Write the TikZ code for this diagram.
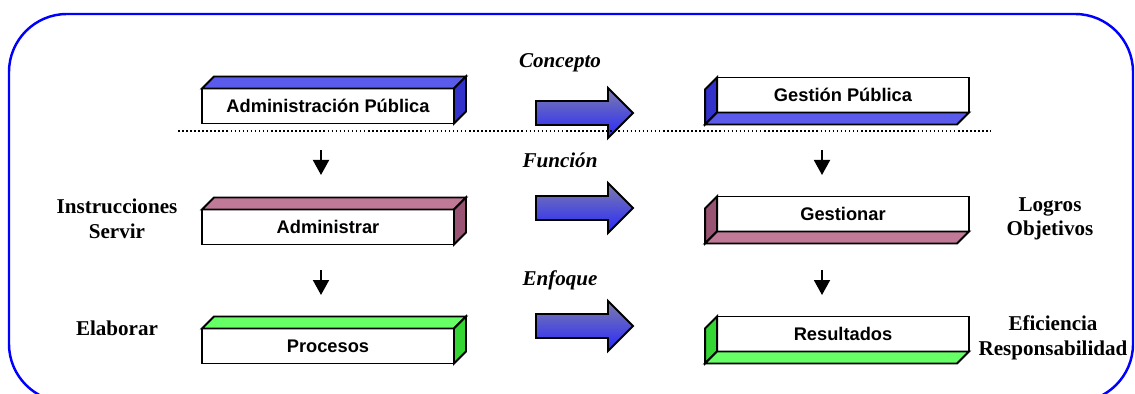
\documentclass[tikz,border=0pt]{standalone}
\usepackage{fontspec}
\setmainfont{Liberation Serif}
\setsansfont{Liberation Sans}
\usetikzlibrary{arrows.meta}

\definecolor{azulA}{RGB}{90,90,235}
\definecolor{azulB}{RGB}{51,51,204}
\definecolor{malvaA}{RGB}{192,122,152}
\definecolor{malvaB}{RGB}{153,84,115}
\definecolor{verdeA}{RGB}{102,255,102}
\definecolor{verdeB}{RGB}{51,214,51}
\definecolor{flechaA}{RGB}{125,125,170}
\definecolor{flechaB}{RGB}{40,40,255}

\begin{document}
\begin{tikzpicture}[x=0.02cm,y=-0.02cm,
  frente/.style={draw,fill=white,line width=1.1pt,minimum width=5.04cm,minimum height=0.70cm,
    inner sep=0pt,outer sep=0pt,font=\sffamily\bfseries\fontsize{10.4}{12}\selectfont},
  cara/.style={draw,line width=1.1pt},
  flecha/.style={draw,line width=1.1pt,top color=flechaA,bottom color=flechaB},
  baja/.style={line width=1.1pt,-{Triangle[width=0.32cm,length=0.30cm]}},
  eje/.style={font=\rmfamily\bfseries\itshape\fontsize{12}{14}\selectfont},
  nota/.style={font=\rmfamily\bfseries\fontsize{12}{14}\selectfont,align=center},
  marco/.style={draw=blue,line width=1.4pt,rounded corners=1.16cm}]

\useasboundingbox (0,0) rectangle (1135,394);
\draw[marco] (9,14) rectangle (1133,402);

% cajas de la izquierda
\node[frente] (admpub) at (328,106) {Administración Pública};
\node[frente] (admin) at (328,227) {Administrar};
\node[frente] (proc) at (328,346) {Procesos};

% cajas de la derecha
\node[frente] (gespub) at (843,95) {Gestión Pública};
\node[frente] (gest) at (843,214) {Gestionar};
\node[frente] (res) at (843,334) {Resultados};

\foreach \n/\c in {admpub/azul, admin/malva, proc/verde}{
  \draw[cara,fill=\c A] (\n.north west) -- ([shift={(12,-12)}]\n.north west)
    -- ([shift={(12,-12)}]\n.north east) -- (\n.north east) -- cycle;
  \draw[cara,fill=\c B] (\n.north east) -- ([shift={(12,-12)}]\n.north east)
    -- ([shift={(12,-12)}]\n.south east) -- (\n.south east) -- cycle;
}
\foreach \n/\c in {gespub/azul, gest/malva, res/verde}{
  \draw[cara,fill=\c B] (\n.north west) -- ([shift={(-12,12)}]\n.north west)
    -- ([shift={(-12,12)}]\n.south west) -- (\n.south west) -- cycle;
  \draw[cara,fill=\c A] (\n.south west) -- ([shift={(-12,12)}]\n.south west)
    -- ([shift={(-12,12)}]\n.south east) -- (\n.south east) -- cycle;
}

% flechas grandes
\foreach \fy in {113,208,326}{
  \draw[flecha] (536,\fy-12) -- (608,\fy-12) -- (608,\fy-25) -- (633,\fy)
    -- (608,\fy+25) -- (608,\fy+12) -- (536,\fy+12) -- cycle;
}

\draw[line width=1.1pt,dash pattern=on 0.9pt off 1.4pt] (178,131) -- (991,131);

% flechas hacia abajo
\coordinate (i1) at (321,150);
\coordinate (i2) at (321,175);
\coordinate (i3) at (321,270);
\coordinate (i4) at (321,295);
\coordinate (d1) at (822,150);
\coordinate (d2) at (822,175);
\coordinate (d3) at (822,270);
\coordinate (d4) at (822,295);
\draw[baja] (i1) -- (i2);
\draw[baja] (i3) -- (i4);
\draw[baja] (d1) -- (d2);
\draw[baja] (d3) -- (d4);

\node[eje] (concepto) at (560,63) {Concepto};
\node[eje] (funcion) at (560,160) {Función};
\node[eje] (enfoque) at (560,280) {Enfoque};

\node[nota] (instr) at (117,219) {Instrucciones\\Servir};
\node[nota] (elab) at (117,328) {Elaborar};
\node[nota] (logros) at (1050,219) {Logros\\Objetivos};
\node[nota] (efic) at (1053,338) {Eficiencia\\Responsabilidad};

\end{tikzpicture}
\end{document}
